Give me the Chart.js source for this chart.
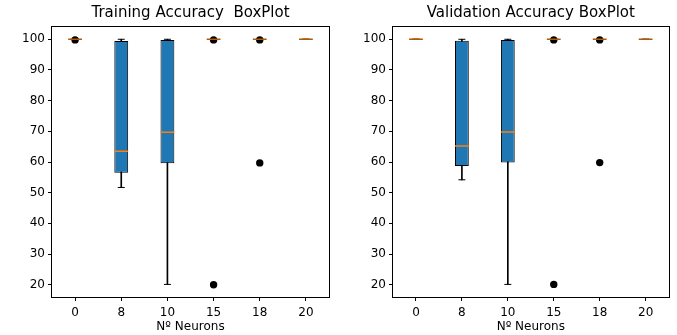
<!DOCTYPE html>
<html>
<head>
<meta charset="utf-8">
<script src="https://cdn.jsdelivr.net/npm/chart.js@4/dist/chart.umd.min.js"></script>
<style>
  body { margin: 0; background: #fff; }
  .box { position: absolute; top: 0; height: 335px; }
</style>
</head>
<body>
<div class="box" style="left:0;width:338px"><canvas id="train"></canvas></div>
<div class="box" style="left:341px;width:336px"><canvas id="valid"></canvas></div>
<script>
// categories and y ticks
const neurons = ['0', '8', '10', '15', '18', '20'];
const yTicks = [20, 30, 40, 50, 60, 70, 80, 90, 100];

// training accuracy box stats
const trainQ1 = [100, 56.5, 59.6, 100, 100, 100];
const trainQ3 = [100, 99.4, 99.8, 100, 100, 100];
const trainMed = [100, 63.5, 69.7, 100, 100, 100];
const trainLow = [100, 51.7, 20.1, 100, 100, 100];
const trainHigh = [100, 100, 100, 100, 100, 100];
const trainFliers = [[99.8], [], [], [99.8, 20.0], [99.8, 59.7], []];

// validation accuracy box stats
const validQ1 = [100, 58.7, 59.8, 100, 100, 100];
const validQ3 = [100, 99.5, 99.8, 100, 100, 100];
const validMed = [100, 65.2, 69.8, 100, 100, 100];
const validLow = [100, 54.2, 20.1, 100, 100, 100];
const validHigh = [100, 100, 100, 100, 100, 100];
const validFliers = [[], [], [], [99.8, 20.1], [99.8, 59.8], []];

Chart.defaults.font.family = "'DejaVu Sans', sans-serif";
Chart.defaults.color = '#000';

// matplotlib style frame on all four sides
const frame = {
  id: 'frame',
  afterDraw(chart) {
    const a = chart.chartArea, ctx = chart.ctx;
    ctx.save();
    ctx.strokeStyle = '#000';
    ctx.lineWidth = 1;
    ctx.strokeRect(Math.round(a.left) - 0.5, Math.round(a.top) - 0.5,
      Math.round(a.right - a.left) + 1, Math.round(a.bottom - a.top) + 1);
    ctx.restore();
  }
};

function makeChart(id, title, q1, q3, med, low, high, fliers, rightPad) {
  const caps = [];
  neurons.forEach((n, i) => {
    caps.push({x: n, y: low[i]});
    caps.push({x: n, y: high[i]});
  });
  const pts = [];
  fliers.forEach((f, i) => f.forEach(v => pts.push({x: neurons[i], y: v})));
  const medColors = med.map((m, i) => q1[i] === q3[i] ? '#b05a08' : '#ff7f0e');

  return new Chart(document.getElementById(id), {
    type: 'bar',
    data: {
      labels: neurons,
      datasets: [
        {
          label: 'whisker',
          data: neurons.map((n, i) => [low[i], high[i]]),
          backgroundColor: '#000',
          barThickness: 1,
          grouped: false,
          order: 5
        },
        {
          label: 'box',
          data: neurons.map((n, i) => [q1[i], q3[i]]),
          backgroundColor: '#1f77b4',
          borderColor: '#000',
          borderWidth: 1,
          borderSkipped: false,
          barPercentage: 0.3,
          categoryPercentage: 1,
          grouped: false,
          order: 4
        },
        {
          type: 'line',
          label: 'caps',
          data: caps,
          showLine: false,
          pointStyle: 'line',
          pointRadius: 3.5,
          pointBorderWidth: 1,
          pointBorderColor: '#000',
          order: 3
        },
        {
          type: 'line',
          label: 'fliers',
          data: pts,
          showLine: false,
          pointStyle: 'circle',
          pointRadius: 3.7,
          pointBackgroundColor: '#000',
          pointBorderColor: '#000',
          pointBorderWidth: 0,
          order: 2
        },
        {
          type: 'line',
          label: 'median',
          data: med,
          showLine: false,
          pointStyle: 'line',
          pointRadius: 6.9,
          pointBorderWidth: 1.5,
          pointBorderColor: medColors,
          order: 1
        }
      ]
    },
    options: {
      responsive: true,
      maintainAspectRatio: false,
      animation: false,
      events: [],
      layout: { padding: { left: 0, right: rightPad, top: 0, bottom: 0 } },
      plugins: {
        legend: { display: false },
        tooltip: { enabled: false },
        title: {
          display: true,
          text: title,
          fullSize: false,
          color: '#000',
          font: { size: 15, weight: 'normal' },
          padding: { top: 4, bottom: 5 }
        }
      },
      scales: {
        x: {
          offset: true,
          grid: { offset: false, drawOnChartArea: false, drawTicks: true, tickLength: 4, color: '#000' },
          border: { display: false },
          ticks: { font: { size: 12 }, padding: 5, color: '#000', maxRotation: 0 },
          title: { display: true, text: 'Nº Neurons', font: { size: 12 }, color: '#000', padding: { top: 0, bottom: 1 } },
          afterFit(s) { s.height = 38; }
        },
        y: {
          min: 16,
          max: 104,
          grid: { drawOnChartArea: false, drawTicks: true, tickLength: 4, color: '#000' },
          border: { display: false },
          ticks: { font: { size: 12 }, padding: 3, color: '#000', includeBounds: false },
          afterBuildTicks(s) { s.ticks = yTicks.map(v => ({value: v})); },
          afterFit(s) { s.width = 52; }
        }
      }
    },
    plugins: [frame]
  });
}

makeChart('train', 'Training Accuracy  BoxPlot', trainQ1, trainQ3, trainMed, trainLow, trainHigh, trainFliers, 9);
makeChart('valid', 'Validation Accuracy BoxPlot', validQ1, validQ3, validMed, validLow, validHigh, validFliers, 7);
</script>
</body>
</html>
